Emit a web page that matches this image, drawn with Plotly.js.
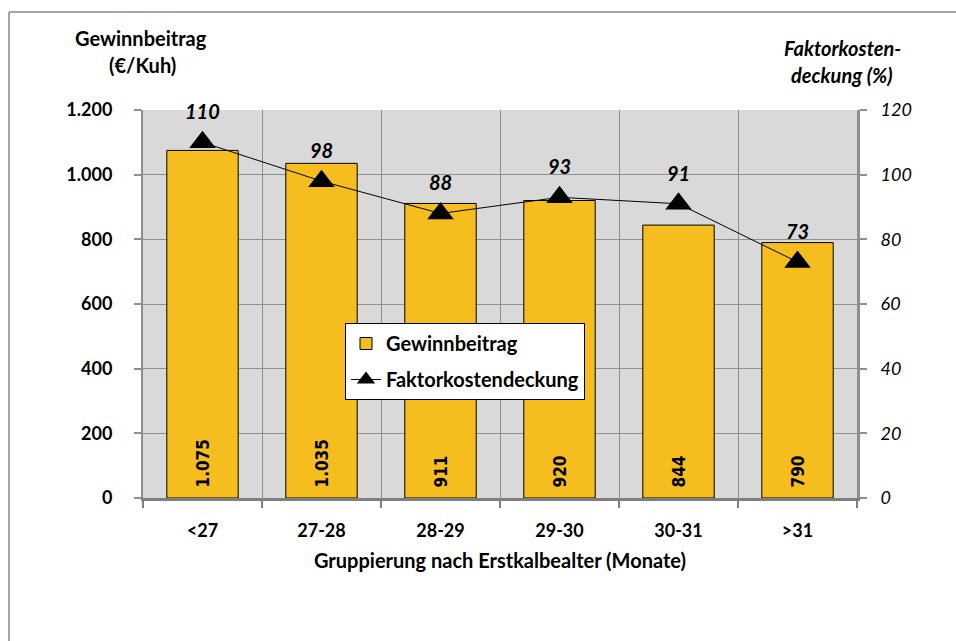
<!DOCTYPE html>
<html>
<head>
<meta charset="utf-8">
<script src="https://cdn.plot.ly/plotly-3.0.1.min.js"></script>
<style>
  html, body { margin: 0; padding: 0; background: #ffffff; }
  #chart { width: 956px; height: 641px; }
</style>
</head>
<body>
<div id="chart"></div>
<script>
// Gruppen nach Erstkalbealter (Monate)
const categories = ['<27', '27-28', '28-29', '29-30', '30-31', '>31'];
// Gewinnbeitrag in €/Kuh
const gewinnbeitrag = [1075, 1035, 911, 920, 844, 790];
// Faktorkostendeckung in %
const faktorkostendeckung = [110, 98, 88, 93, 91, 73];

const leftTicks = [0, 200, 400, 600, 800, 1000, 1200];
const rightTicks = [0, 20, 40, 60, 80, 100, 120];

// German thousands separator
function fmtDe(v) {
  return String(v).replace(/\B(?=(\d{3})+(?!\d))/g, '.');
}

const FONT = 'Lato, "Open Sans", sans-serif';
const GRID = '#8f8f8f';

// plot area in pixels
const W = 956, H = 641;
const L = 143, R = 857, T = 110, B = 498;
const px = x => (x - L) / (R - L);
const py = y => (B - y) / (B - T);

const bars = {
  type: 'bar',
  name: 'Gewinnbeitrag',
  x: categories,
  y: gewinnbeitrag,
  marker: { color: '#F6BD1F', line: { color: '#000000', width: 1 } },
  legendgroup: 'a',
  hoverinfo: 'y'
};

const line = {
  type: 'scatter',
  mode: 'lines+markers',
  name: 'Faktorkostendeckung',
  x: categories,
  y: faktorkostendeckung,
  yaxis: 'y2',
  line: { color: '#000000', width: 1 },
  marker: { symbol: 'triangle-up', size: 23, color: '#000000' },
  legendgroup: 'b',
  hoverinfo: 'y'
};

const annotations = [];

// values written vertically inside the bars
categories.forEach((c, i) => {
  annotations.push({
    x: c, y: 0, xref: 'x', yref: 'y',
    text: '<b>' + fmtDe(gewinnbeitrag[i]) + '</b>',
    textangle: -90,
    showarrow: false,
    xanchor: 'center', yanchor: 'bottom',
    yshift: 8,
    font: { family: '"DejaVu Sans Condensed", "DejaVu Sans", sans-serif', size: 17, color: '#000000' }
  });
});

// values above the triangles
categories.forEach((c, i) => {
  annotations.push({
    x: c, y: faktorkostendeckung[i], xref: 'x', yref: 'y2',
    text: '<b><i>' + faktorkostendeckung[i] + '</i></b>',
    showarrow: false,
    xanchor: 'center', yanchor: 'middle',
    yshift: 31,
    font: { family: FONT, size: 20, color: '#000000' }
  });
});

// axis titles
const titleFont = { family: FONT, size: 20, color: '#000000' };
annotations.push(
  { xref: 'paper', yref: 'paper', x: px(141), y: py(38), text: '<b>Gewinnbeitrag</b>',
    showarrow: false, xanchor: 'center', yanchor: 'middle', font: titleFont },
  { xref: 'paper', yref: 'paper', x: px(142), y: py(65), text: '<b>(€/Kuh)</b>',
    showarrow: false, xanchor: 'center', yanchor: 'middle', font: titleFont },
  { xref: 'paper', yref: 'paper', x: px(842), y: py(48), text: '<b><i>Faktorkosten-</i></b>',
    showarrow: false, xanchor: 'center', yanchor: 'middle', font: titleFont },
  { xref: 'paper', yref: 'paper', x: px(842), y: py(75), text: '<b><i>deckung (%)</i></b>',
    showarrow: false, xanchor: 'center', yanchor: 'middle', font: titleFont },
  { xref: 'paper', yref: 'paper', x: px(500), y: py(560), text: '<b>Gruppierung nach Erstkalbealter (Monate)</b>',
    showarrow: false, xanchor: 'center', yanchor: 'middle', font: titleFont }
);

const layout = {
  width: W, height: H,
  margin: { l: L, r: W - R, t: T, b: H - B, pad: 0 },
  paper_bgcolor: '#ffffff',
  plot_bgcolor: '#d9d9d9',
  separators: ',.',
  font: { family: FONT, size: 18, color: '#000000' },
  bargap: 0.4,
  showlegend: true,
  legend: {
    x: px(345), y: py(323), xanchor: 'left', yanchor: 'top',
    bgcolor: '#ffffff', bordercolor: '#000000', borderwidth: 1,
    font: { family: FONT, size: 20, color: '#000000', weight: 'bold' },
    traceorder: 'grouped', tracegroupgap: 7
  },
  xaxis: {
    type: 'category',
    tickson: 'boundaries',
    ticks: 'outside', ticklen: 7, tickwidth: 2, tickcolor: '#7f7f7f',
    showgrid: true, gridcolor: GRID, gridwidth: 1,
    showline: true, linecolor: '#7f7f7f', linewidth: 3,
    tickfont: { family: FONT, size: 18, color: '#000000', weight: 'bold' },
    ticklabelstandoff: 14,
    fixedrange: true
  },
  yaxis: {
    range: [0, 1200],
    tickvals: leftTicks,
    tickformat: ',d',
    ticks: 'outside', ticklen: 7, tickwidth: 2, tickcolor: GRID,
    showgrid: true, gridcolor: GRID, gridwidth: 1,
    zeroline: false,
    showline: true, linecolor: GRID, linewidth: 2,
    tickfont: { family: FONT, size: 18, color: '#000000', weight: 'bold' },
    ticklabelstandoff: 18,
    fixedrange: true
  },
  yaxis2: {
    range: [0, 120],
    tickvals: rightTicks,
    overlaying: 'y', side: 'right',
    ticks: 'outside', ticklen: 7, tickwidth: 2, tickcolor: GRID,
    showgrid: false, zeroline: false,
    showline: true, linecolor: GRID, linewidth: 3,
    tickfont: { family: FONT, size: 18, color: '#000000', style: 'italic' },
    ticklabelstandoff: 10,
    fixedrange: true
  },
  annotations: annotations,
  shapes: [
    { type: 'line', xref: 'paper', yref: 'paper', x0: px(9), x1: px(9), y0: py(660), y1: py(12),
      line: { color: '#a6a6a6', width: 2 } },
    { type: 'line', xref: 'paper', yref: 'paper', x0: px(9), x1: px(970), y0: py(12), y1: py(12),
      line: { color: '#a6a6a6', width: 2 } }
  ]
};

Plotly.newPlot('chart', [bars, line], layout, { displayModeBar: false, staticPlot: true });
</script>
</body>
</html>
